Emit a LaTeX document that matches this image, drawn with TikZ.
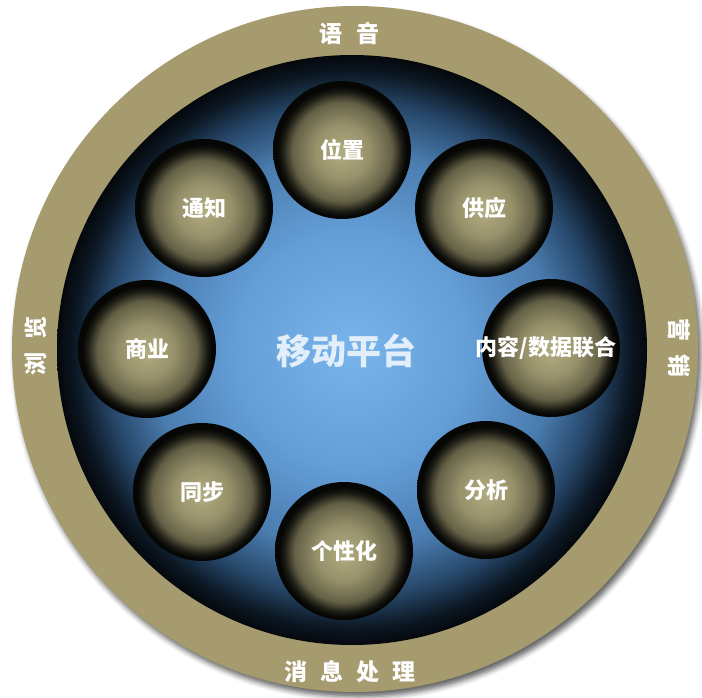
\documentclass[tikz,border=0pt]{standalone}
\usepackage{fontspec}
\newfontfamily\cjk{Noto Sans CJK SC}
\usetikzlibrary{shadows.blur}
\definecolor{ringc}{RGB}{165,155,110}
\definecolor{bA}{RGB}{120,180,235}
\definecolor{bB}{RGB}{100,158,215}
\definecolor{bC}{RGB}{74,124,175}
\definecolor{bD}{RGB}{38,70,104}
\definecolor{bE}{RGB}{12,24,36}
\definecolor{bF}{RGB}{4,8,12}
\definecolor{kA}{RGB}{178,172,128}
\definecolor{kB}{RGB}{150,145,106}
\definecolor{kC}{RGB}{100,96,70}
\definecolor{kD}{RGB}{30,30,22}
\definecolor{kE}{RGB}{6,6,4}
\definecolor{titlec}{RGB}{226,238,250}
\pgfdeclareradialshading{bluesh}{\pgfpoint{0bp}{0bp}}{color(0bp)=(bA); color(10bp)=(bB); color(17bp)=(bC); color(21bp)=(bD); color(23.5bp)=(bE); color(25bp)=(bF); color(50bp)=(bF)}
\pgfdeclareradialshading{ballsh}{\pgfpoint{0bp}{-1bp}}{color(0bp)=(kA); color(10bp)=(kB); color(18bp)=(kC); color(21.5bp)=(kD); color(23.5bp)=(kE); color(50bp)=(kE)}
\tikzset{
  ball/.style={circle, minimum size=138pt, inner sep=0pt, shade, shading=ballsh, text=white,
    font=\cjk\bfseries\fontsize{22}{24}\selectfont},
  ringtxt/.style={text=white, inner sep=0pt, font=\cjk\bfseries\fontsize{23}{25}\selectfont}
}
\begin{document}
\begin{tikzpicture}[x=1pt,y=-1pt]
\useasboundingbox (0,0) rectangle (702,698);
% outer ring
\path[fill=ringc, blur shadow={shadow xshift=3pt, shadow yshift=-5pt, shadow blur radius=5pt, shadow opacity=60}] (355,349) circle[radius=343];
% inner blue disc
\path[shade, shading=bluesh] (352,350) circle[radius=295];
% platform nodes
\node[ball] (loc) at (342,150) {位置};
\node[ball] (notif) at (204,208) {通知};
\node[ball] (supply) at (484,208) {供应};
\node[ball] (content) at (551,348) {};
\node[text=white, inner sep=0pt, font=\cjk\bfseries\fontsize{22}{24}\selectfont] (contentlbl) at (546,348) {内容/数据联合};
\node[ball] (commerce) at (147,349) {商业};
\node[ball] (sync) at (202,492) {同步};
\node[ball] (person) at (344,551) {个性化};
\node[ball] (analysis) at (486,490) {分析};
% centre title
\node[text=titlec, font=\cjk\bfseries\fontsize{35}{38}\selectfont] (title) at (346,351) {移动平台};
% ring labels
\node[ringtxt] (voice) at (349.5,33.5) {语\hspace{14pt}音};
\node[ringtxt] (msg) at (350,671.5) {消\hspace{13pt}息\hspace{13pt}处\hspace{13pt}理};
\node[ringtxt, rotate=90] (left) at (36,346) {浏\hspace{13pt}览};
\node[ringtxt, rotate=-90] (right) at (679,348) {营\hspace{13pt}销};
\end{tikzpicture}
\end{document}
